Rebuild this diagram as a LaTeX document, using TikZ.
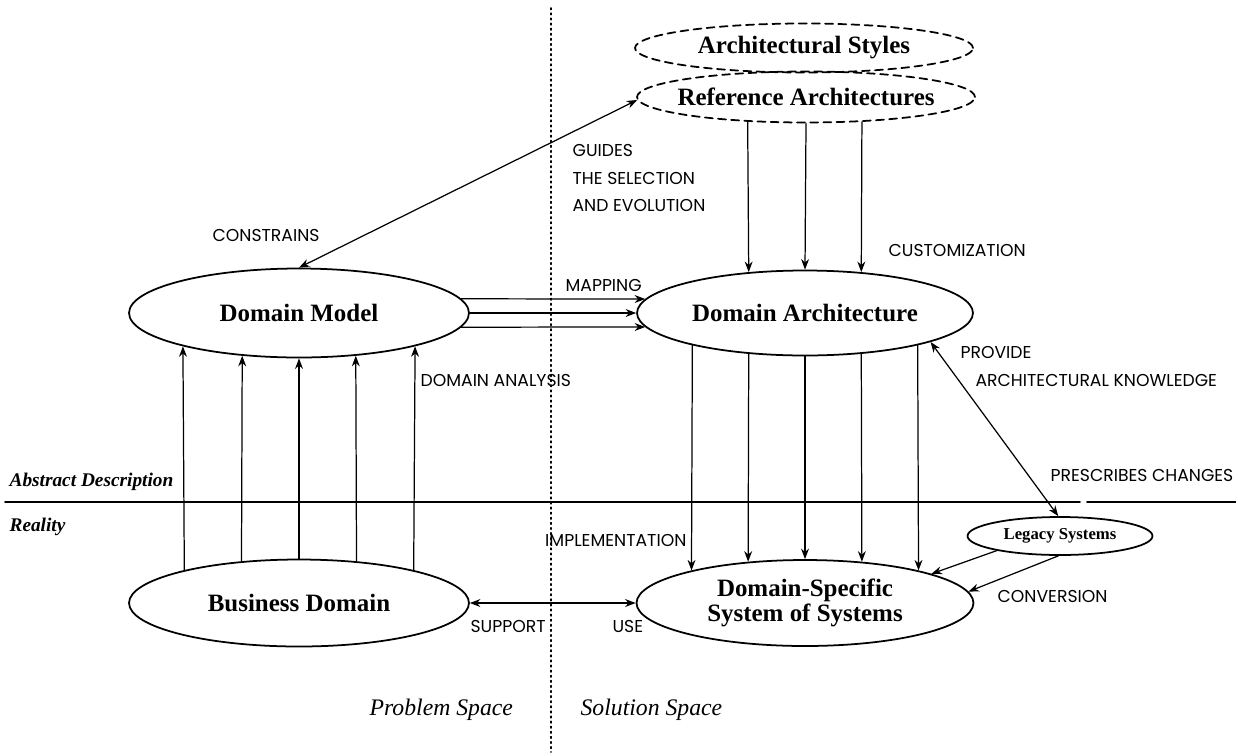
\documentclass[tikz,border=0pt]{standalone}
\usepackage{fontspec}
\setmainfont{Liberation Serif}
\newfontfamily\capsfont{Poppins}
\usetikzlibrary{shapes.geometric,arrows.meta}
\tikzset{
  blob/.style={ellipse,draw,line width=1pt,inner sep=0pt,font=\bfseries\fontsize{14.2}{14}\selectfont},
  dashblob/.style={blob,dash pattern=on 4.5pt off 3pt},
  tag/.style={anchor=west,inner sep=0pt,font=\capsfont\fontsize{9.8}{10}\selectfont},
  levellbl/.style={anchor=west,inner sep=0pt,font=\bfseries\itshape\fontsize{11}{12}\selectfont},
  spacelbl/.style={anchor=west,inner sep=0pt,font=\itshape\fontsize{13.5}{14}\selectfont},
}
\begin{document}
\begin{tikzpicture}[>={Stealth[length=6pt,width=4.5pt]},x=0.02cm,y=-0.02cm,line join=round,line cap=round,line width=0.7pt]
\useasboundingbox (0,0) rectangle (1236,754);
\draw[dotted,line width=0.9pt] (551,8)--(551,752);
\draw[line width=1pt] (5,502)--(1080,502) (1087,502)--(1236,502);
\node[dashblob,minimum width=6.76cm,minimum height=0.98cm] (AS) at (804,48) {Architectural Styles};
\node[dashblob,inner xsep=-8pt,minimum width=6.76cm,minimum height=1.02cm] (RA) at (806,97) {Reference Architectures};
\node[blob,minimum width=6.8cm,minimum height=1.78cm] (DM) at (299,313) {Domain Model};
\node[blob,minimum width=6.72cm,minimum height=1.7cm] (DA) at (805,313) {Domain Architecture};
\node[blob,minimum width=6.8cm,minimum height=1.74cm] (BD) at (299,603) {Business Domain};
\node[blob,minimum width=6.74cm,minimum height=1.72cm,align=center,font=\bfseries\fontsize{14.2}{12.3}\selectfont] (DS) at (805,603) {Domain-Specific\\System of Systems};
\node[blob,minimum width=3.7cm,minimum height=0.76cm,font=\bfseries\fontsize{9.5}{10}\selectfont] (LS) at (1060,536) {Legacy Systems};
\node[tag] (constrains) at (212,235) {CONSTRAINS};
\node[tag,align=left,font=\capsfont\fontsize{9.8}{15.9}\selectfont] (guides) at (572,178) {GUIDES\\THE SELECTION\\AND EVOLUTION};
\node[tag] (customization) at (888,250) {CUSTOMIZATION};
\node[tag] (mapping) at (565,285) {MAPPING};
\node[tag] (analysis) at (420,380) {DOMAIN ANALYSIS};
\node[tag] (provide) at (960,352) {PROVIDE};
\node[tag] (knowledge) at (975,380) {ARCHITECTURAL KNOWLEDGE};
\node[tag] (prescribes) at (1050,475) {PRESCRIBES CHANGES};
\node[tag,anchor=east] (implementation) at (687,540) {IMPLEMENTATION};
\node[tag] (support) at (470,626) {SUPPORT};
\node[tag] (use) at (612,626) {USE};
\node[tag] (conversion) at (997,596) {CONVERSION};
\node[levellbl] (abstract) at (9,482) {Abstract Description};
\node[levellbl] (reality) at (9,527) {Reality};
\node[spacelbl] (problem) at (369,710) {Problem Space};
\node[spacelbl] (solution) at (580,710) {Solution Space};
\draw[<->] (RA.181)--(DM.north);
\foreach \a/\b in {5/175,0/180,355/185} \draw[->] (DM.\a)--(DA.\b);
\foreach \a/\b in {203/144,270/90,336/36} \draw[->] (RA.\a)--(DA.\b);
\foreach \a/\b in {164/196,144/217,90/270,36/323,16/344} \draw[->] (BD.\a)--(DM.\b);
\foreach \a/\b in {196/164,216/144,270/90,324/36,344/16} \draw[->] (DA.\a)--(DS.\b);
\draw[<->] (DA.347)--(LS.95);
\draw[->] (LS.193)--(DS.13);
\draw[->] (LS.265)--(DS.4);
\draw[<->] (BD.east)--(DS.west);
\end{tikzpicture}
\end{document}
